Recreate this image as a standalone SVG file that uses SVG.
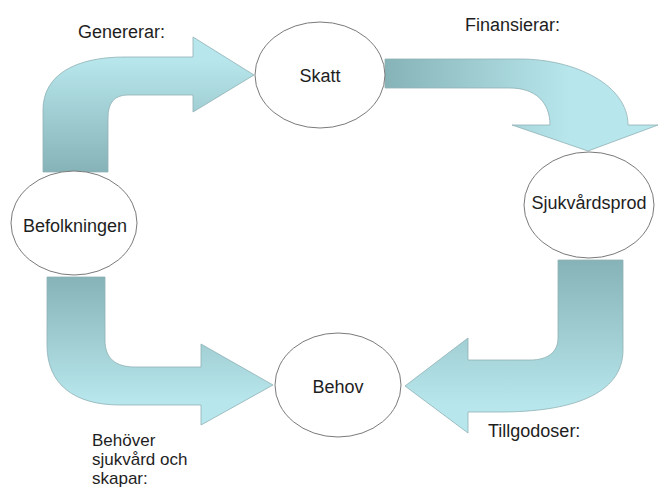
<svg xmlns="http://www.w3.org/2000/svg" width="658" height="488" viewBox="0 0 658 488">
  <style>
    .arrow { stroke: #8fb1b5; stroke-width: 0.8; stroke-linejoin: round; }
    .node ellipse { fill: #ffffff; stroke: #7a7a7a; stroke-width: 1; }
    text { font-family: "Liberation Sans", Arial, sans-serif; font-size: 18px; fill: #1e1e1e; }
    .c { text-anchor: middle; }
    .small { font-size: 17px; }
  </style>
  <defs>
    <linearGradient id="g1" gradientUnits="userSpaceOnUse" x1="0" y1="172" x2="0" y2="60">
      <stop offset="0" stop-color="#86b3b7"/>
      <stop offset="1" stop-color="#b7e6ec"/>
    </linearGradient>
    <linearGradient id="g2" gradientUnits="userSpaceOnUse" x1="385" y1="0" x2="570" y2="0">
      <stop offset="0" stop-color="#86b3b7"/>
      <stop offset="1" stop-color="#b7e6ec"/>
    </linearGradient>
    <linearGradient id="g3" gradientUnits="userSpaceOnUse" x1="0" y1="260" x2="0" y2="405">
      <stop offset="0" stop-color="#86b3b7"/>
      <stop offset="1" stop-color="#b7e6ec"/>
    </linearGradient>
    <linearGradient id="g4" gradientUnits="userSpaceOnUse" x1="0" y1="277" x2="0" y2="400">
      <stop offset="0" stop-color="#86b3b7"/>
      <stop offset="1" stop-color="#b7e6ec"/>
    </linearGradient>
  </defs>

  <g id="connectors">
    <path id="arrow-genererar" class="arrow" fill="url(#g1)" d="M 43,172 L 43,110 C 43,75 75,57 125,57 L 193,57 L 193,37 L 254,75 L 193,112 L 193,95 L 128,95 C 114,95 108,103 108,118 L 108,172 Z"/>
    <path id="arrow-finansierar" class="arrow" fill="url(#g2)" d="M 385,59 L 520,59 C 575,59 628,85 628,125 L 658,125 L 588,151 L 512,125 L 550,125 C 550,102 535,88 510,88 L 385,88 Z"/>
    <path id="arrow-tillgodoser" class="arrow" fill="url(#g3)" d="M 558,260 L 623,260 L 623,350 C 623,395 570,412 500,412 L 468,412 L 468,433 L 405,386 L 468,338 L 468,360 L 530,360 C 548,360 558,352 558,338 Z"/>
    <path id="arrow-behover" class="arrow" fill="url(#g4)" d="M 47,277 L 105,277 L 105,340 C 105,358 115,367 135,367 L 201,367 L 201,344 L 273,385 L 201,425 L 201,405 L 120,405 C 75,405 47,385 47,345 Z"/>
  </g>

  <g id="node-skatt" class="node">
    <ellipse cx="320" cy="75" rx="65" ry="53"/>
    <text class="c" x="320" y="82">Skatt</text>
  </g>
  <g id="node-sjukvardsprod" class="node">
    <ellipse cx="589" cy="205" rx="65" ry="53"/>
    <text class="c" x="589" y="209">Sjukvårdsprod</text>
  </g>
  <g id="node-befolkningen" class="node">
    <ellipse cx="74" cy="223" rx="63" ry="52"/>
    <text class="c" x="75" y="232">Befolkningen</text>
  </g>
  <g id="node-behov" class="node">
    <ellipse cx="338" cy="385" rx="63" ry="52"/>
    <text class="c" x="338" y="393">Behov</text>
  </g>

  <g id="labels">
    <text x="78" y="38">Genererar:</text>
    <text x="465" y="31">Finansierar:</text>
    <text x="488" y="437">Tillgodoser:</text>
    <text class="small" x="92" y="446">Behöver</text>
    <text class="small" x="92" y="465">sjukvård och</text>
    <text class="small" x="92" y="484">skapar:</text>
  </g>
</svg>
